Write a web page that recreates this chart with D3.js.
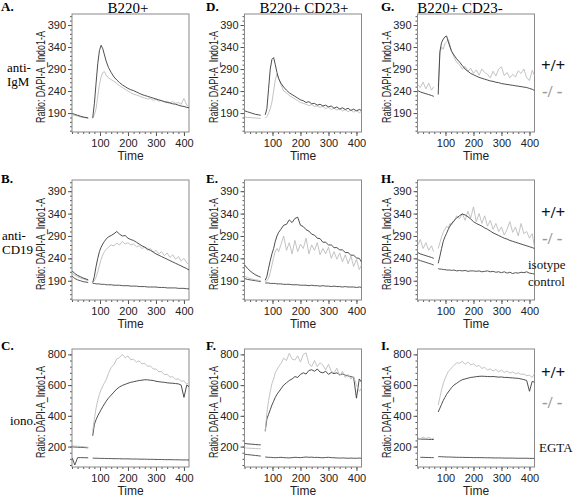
<!DOCTYPE html>
<html><head><meta charset="utf-8">
<script src="https://cdn.jsdelivr.net/npm/d3@7"></script>
<style>body{margin:0;background:#fff}svg{display:block}</style>
</head><body><svg id="c" width="576" height="498"></svg>
<script>
// ---- data ----
const time = [1,10,20,30,40,50,58,66,74,80,86,92,98,104,110,116,122,130,140,150,160,170,180,190,200,210,220,230,240,250,260,270,280,290,300,310,320,330,340,350,360,370,380,390,400,410,418];
const xTicks = [100,200,300,400];
const yTicksRatio = [190,240,290,340,390];
const yTicksIono = [200,400,600,800];
const colTitles = ["B220+","B220+ CD23+","B220+ CD23-"];
const rowLabels = [["anti-","IgM"],["anti-","CD19"],["iono."]];
const panelLetters = [["A.","D.","G."],["B.","E.","H."],["C.","F.","I."]];

const A_wt=[189,187,185,183,181,180,179,null,179,212,258,302,332,344,336,322,308,294,282,272,265,259,254,250,246,243,241,238,235,232,230,228,226,224,222,220,218,216,214,213,211,210,208,206,205,203,202];
const A_ko=[186,185,183,181,180,179,178,null,178,186,200,228,255,272,282,284,276,270,266,262,257,252,248,244,240,236,233,231,229,226,224,222,223,219,221,217,219,215,217,213,216,212,214,210,223,208,206];
const D_wt=[195,193,191,189,187,186,185,null,186,200,245,290,312,316,300,282,268,258,249,242,236,232,228,224,220,218,214,216,211,212,208,210,206,208,204,206,201,204,199,202,198,201,196,199,195,198,196];
const D_ko=[181,180,180,179,179,178,178,null,178,182,190,200,215,240,265,279,270,255,240,236,230,226,222,218,214,212,210,207,209,205,206,203,205,200,203,198,201,197,200,195,198,193,197,192,196,191,194];
const G_wt=[241,238,236,234,232,230,228,null,232,330,350,358,363,365,352,340,330,322,313,306,298,290,285,280,277,274,271,269,267,265,263,262,260,259,257,256,255,254,253,252,251,250,249,248,246,244,241];
const G_ko=[255,248,260,245,258,242,250,null,250,325,340,335,348,352,357,345,330,318,305,300,290,296,285,292,280,288,276,290,282,278,270,285,274,290,295,275,282,270,278,272,286,280,290,270,264,287,275];

const B_wt=[212,206,202,199,196,194,192,null,186,200,222,240,255,265,272,278,283,288,291,295,300,294,290,291,285,282,280,276,272,268,265,261,258,254,250,247,244,241,238,235,232,229,226,223,220,217,214];
const B_ko=[207,202,199,196,194,192,190,null,186,190,198,210,225,238,248,255,260,265,270,268,274,270,278,272,275,270,272,266,268,262,265,258,262,254,258,250,255,246,252,242,248,238,244,234,240,230,226];
const B_iso=[200,195,192,190,188,187,186,null,184,184,183,183,183,182,182,182,181,181,181,180,180,180,179,179,179,178,178,178,177,177,177,176,176,176,176,175,175,175,174,174,174,174,173,173,173,172,172];
const E_wt=[225,218,212,207,203,200,198,null,191,200,218,235,250,262,278,290,298,305,314,316,326,320,329,332,314,311,304,301,294,292,285,284,276,276,270,270,264,264,259,259,253,253,247,247,241,240,232];
const E_ko=[200,197,195,193,192,191,190,null,188,190,196,208,225,242,256,262,255,270,290,258,275,250,280,255,272,262,285,250,270,258,275,248,262,250,265,240,255,238,252,232,248,228,245,222,238,215,225];
const E_iso=[195,193,192,191,190,189,188,null,185,185,185,184,184,184,184,183,183,183,182,182,182,181,181,181,180,180,180,179,180,179,179,178,179,178,178,177,178,177,177,176,177,176,176,176,175,176,175];
const H_wt=[253,250,248,246,244,242,240,null,229,245,262,278,288,296,305,312,318,324,330,335,339,337,333,328,322,318,315,312,308,305,301,297,294,291,288,285,283,280,278,276,274,272,270,268,266,264,262];
const H_ko=[270,282,262,275,258,268,255,null,262,275,288,298,305,312,308,318,315,322,335,328,340,325,345,330,355,322,340,318,335,312,325,305,318,300,310,292,305,322,298,310,290,318,295,300,285,295,265];
const H_iso=[237,235,233,231,229,227,225,null,217,216,216,215,215,214,214,214,213,214,212,213,212,213,211,212,212,211,212,210,211,212,210,211,209,210,208,210,207,209,206,208,207,209,208,210,207,206,205];

const C_wt=[198,197,196,195,194,193,192,null,270,345,375,400,420,440,460,478,495,515,535,555,575,588,598,605,612,618,622,626,630,632,635,634,632,630,625,622,620,618,615,613,612,610,608,600,520,600,590];
const C_ko=[205,203,202,200,199,197,195,null,300,380,450,500,540,570,595,615,635,675,715,735,770,780,800,778,790,765,768,750,758,738,742,722,725,705,705,688,688,668,670,652,655,638,640,625,628,605,620];
const C_egta=[125,80,128,128,128,127,127,null,125,124,124,124,123,123,123,123,122,122,122,121,121,121,120,120,120,119,119,119,118,118,118,117,117,117,116,116,116,115,115,115,114,114,114,113,113,113,112];
const F_wt=[220,218,216,215,213,212,211,null,300,380,410,440,470,495,520,540,555,575,600,615,630,640,655,650,670,680,672,695,700,690,705,685,680,690,670,682,675,680,668,672,665,660,655,650,515,640,620];
const F_ko=[192,190,189,188,187,186,185,null,300,420,500,560,610,640,680,700,720,740,775,760,807,770,763,790,750,800,810,740,720,760,720,745,730,700,735,690,680,710,660,690,650,670,640,655,600,560,580];
const F_egta=[150,148,146,144,142,140,138,null,132,131,130,130,129,128,128,128,129,130,128,127,126,128,130,129,128,130,132,130,131,129,130,128,127,129,130,128,127,126,125,126,125,124,125,124,124,125,124];
const I_wt=[250,249,248,248,247,246,246,null,425,450,475,500,520,540,555,570,585,600,612,625,635,640,645,650,652,655,657,658,657,656,655,656,654,652,653,650,650,648,647,645,644,640,636,630,560,625,618];
const I_ko=[258,250,262,252,260,250,256,null,470,520,570,610,640,665,688,700,712,728,745,742,755,735,750,732,738,722,728,708,716,698,706,692,702,686,698,682,692,678,686,674,680,670,672,662,664,650,675];
const I_egta=[null,130,130,129,129,128,128,null,135,134,134,133,133,132,132,132,131,131,130,130,130,129,129,129,128,128,128,128,127,127,127,126,126,126,126,125,125,125,125,124,124,124,124,124,123,123,123];

// ---- layout ----
const panels = [
  {row:0,col:0,series:[[A_ko,"ko"],[A_wt,"wt"]]},
  {row:0,col:1,series:[[D_ko,"ko"],[D_wt,"wt"]]},
  {row:0,col:2,series:[[G_ko,"ko"],[G_wt,"wt"]]},
  {row:1,col:0,series:[[B_iso,"ctl"],[B_ko,"ko"],[B_wt,"wt"]]},
  {row:1,col:1,series:[[E_iso,"ctl"],[E_ko,"ko"],[E_wt,"wt"]]},
  {row:1,col:2,series:[[H_iso,"ctl"],[H_ko,"ko"],[H_wt,"wt"]]},
  {row:2,col:0,series:[[C_egta,"ctl"],[C_wt,"wt"],[C_ko,"ko"]]},
  {row:2,col:1,series:[[F_egta,"ctl"],[F_wt,"wt"],[F_ko,"ko"]]},
  {row:2,col:2,series:[[I_egta,"ctl"],[I_wt,"wt"],[I_ko,"ko"]]}
];
const colX=[72,244.5,417.5], W=117;
const rows=[
  {top:14,h:118,dom:[147,415],ticks:yTicksRatio,minor:10},
  {top:180,h:120,dom:[147,415],ticks:yTicksRatio,minor:10},
  {top:349,h:118,dom:[67,835],ticks:yTicksIono,minor:40}
];
const colors={wt:"#3a3a3a",ko:"#bcbcbc",ctl:"#444"};
const serif="'Liberation Serif','Times New Roman',serif";
const sans="'Liberation Sans Narrow','Liberation Sans',Arial,sans-serif";

const svg=d3.select("#c");
svg.append("rect").attr("width",576).attr("height",498).attr("fill","#fff");

panels.forEach((p,i)=>{
  const r=rows[p.row], x0=colX[p.col];
  const x=d3.scaleLinear().domain([0,418]).range([x0,x0+W]);
  const y=d3.scaleLinear().domain(r.dom).range([r.top+r.h,r.top]);
  const g=svg.append("g");
  const cid="clip"+i;
  g.append("clipPath").attr("id",cid).append("rect").attr("x",x0).attr("y",r.top).attr("width",W).attr("height",r.h);
  // minor ticks
  const yMinor=d3.axisLeft(y).tickValues(d3.range(Math.ceil(r.dom[0]/r.minor)*r.minor,r.dom[1],r.minor)).tickSize(2).tickFormat("");
  const xMinor=d3.axisBottom(x).tickValues(d3.range(0,418,20)).tickSize(2).tickFormat("");
  const gy1=g.append("g").attr("transform",`translate(${x0},0)`).call(yMinor);
  const gx1=g.append("g").attr("transform",`translate(0,${r.top+r.h})`).call(xMinor);
  // major ticks
  const yAx=d3.axisLeft(y).tickValues(r.ticks).tickSize(4).tickPadding(2);
  const xAx=d3.axisBottom(x).tickValues(xTicks).tickSize(4).tickPadding(3);
  const gy=g.append("g").attr("transform",`translate(${x0},0)`).call(yAx);
  const gx=g.append("g").attr("transform",`translate(0,${r.top+r.h})`).call(xAx);
  [gy1,gx1,gy,gx].forEach(a=>{a.select(".domain").remove();a.selectAll("line").attr("stroke","#555");});
  [gy,gx].forEach(a=>a.selectAll("text").attr("font-family",sans).attr("font-size",11).attr("fill","#222"));
  // frame
  g.append("rect").attr("x",x0).attr("y",r.top).attr("width",W).attr("height",r.h)
    .attr("fill","none").attr("stroke","#8a8a8a").attr("stroke-width",1);
  // lines
  const line=d3.line().defined(d=>d[1]!=null).x(d=>x(d[0])).y(d=>y(d[1]));
  const lg=g.append("g").attr("clip-path",`url(#${cid})`);
  p.series.forEach(([vals,kind])=>{
    lg.append("path").datum(time.map((t,k)=>[t,vals[k]]))
      .attr("d",line).attr("fill","none").attr("stroke",colors[kind]).attr("stroke-width",0.9);
  });
  // axis titles
  g.append("text").attr("x",x0+W/2).attr("y",r.top+r.h+28).attr("text-anchor","middle")
    .attr("font-family",sans).attr("font-size",12).attr("fill","#222").text("Time");
  g.append("text").attr("transform",`translate(${x0-27},${r.top+r.h/2+4}) rotate(-90)`).attr("text-anchor","middle")
    .attr("font-family",sans).attr("font-size",12).attr("textLength",92).attr("lengthAdjust","spacingAndGlyphs")
    .attr("fill","#222").text("Ratio: DAPI-A_Indo1-A");
  // letters
  const lx=[1,206,381][p.col], ly=[11,183,350][p.row];
  svg.append("text").attr("x",lx).attr("y",ly).attr("font-family",serif).attr("font-weight","bold")
    .attr("font-size",13).text(panelLetters[p.row][p.col]);
});

// column titles
[128,304,460].forEach((cx,j)=>{
  svg.append("text").attr("x",cx).attr("y",13).attr("text-anchor","middle").attr("font-family",serif)
    .attr("font-size",15).text(colTitles[j]);
});
// row labels
const rl=[{x:7,y:[72,86]},{x:2,y:[240,254]},{x:10,y:[425]}];
rowLabels.forEach((lines,i)=>{
  lines.forEach((s,k)=>svg.append("text").attr("x",rl[i].x).attr("y",rl[i].y[k]).attr("font-family",serif)
    .attr("font-size",13).text(s));
});
// right legend labels
const rightLabels=[
  {t:"+/+",x:541,y:71,c:"#111",s:17,b:true},{t:"-/ -",x:542,y:97,c:"#9a9a9a",s:17,b:true},
  {t:"+/+",x:541,y:218,c:"#111",s:17,b:true},{t:"-/ -",x:542,y:244,c:"#9a9a9a",s:17,b:true},
  {t:"isotype",x:528,y:269,c:"#111",s:13},{t:"control",x:528,y:286,c:"#111",s:13},
  {t:"+/+",x:541,y:378,c:"#111",s:17,b:true},{t:"-/ -",x:542,y:408,c:"#9a9a9a",s:17,b:true},
  {t:"EGTA",x:539,y:452,c:"#111",s:13}
];
rightLabels.forEach(d=>svg.append("text").attr("x",d.x).attr("y",d.y).attr("font-family",serif)
  .attr("font-size",d.s).attr("font-weight",d.b?"bold":"normal").attr("fill",d.c).text(d.t));
</script></body></html>
